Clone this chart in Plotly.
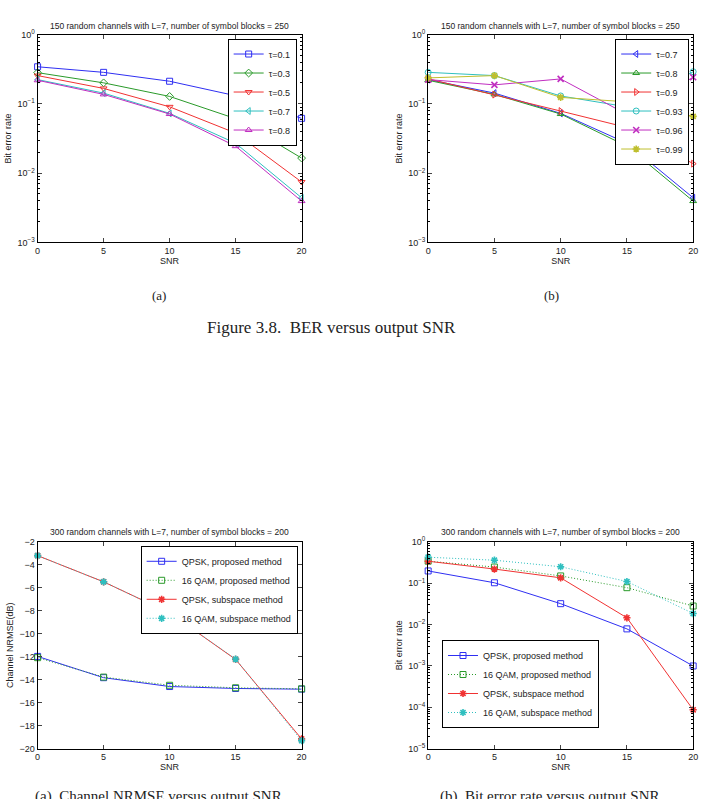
import plotly.graph_objects as go

snr = [0, 5, 10, 15, 20]

# Panel (a) top-left: BER vs SNR for tau
tau_a = ["τ=0.1", "τ=0.3", "τ=0.5", "τ=0.7", "τ=0.8"]
ber_a = [
    [0.343, 0.285, 0.212, 0.131, 0.0618],
    [0.282, 0.201, 0.128, 0.0612, 0.0165],
    [0.256, 0.167, 0.0906, 0.0379, 0.00745],
    [0.224, 0.143, 0.0729, 0.0270, 0.00441],
    [0.219, 0.137, 0.0713, 0.0245, 0.00395],
]

# Panel (b) top-right
tau_b = ["τ=0.7", "τ=0.8", "τ=0.9", "τ=0.93", "τ=0.96", "τ=0.99"]
ber_b = [
    [0.224, 0.143, 0.0729, 0.0270, 0.00441],
    [0.219, 0.137, 0.0713, 0.0245, 0.00395],
    [0.230, 0.136, 0.0787, 0.0456, 0.0137],
    [0.285, 0.256, 0.130, 0.0906, 0.291],
    [0.224, 0.188, 0.229, 0.0705, 0.242],
    [0.237, 0.256, 0.124, 0.107, 0.066],
]

# Bottom panels
methods = ["QPSK, proposed method", "16 QAM, proposed method",
           "QPSK, subspace method", "16 QAM, subspace method"]
nrmse = [
    [-11.97, -13.82, -14.59, -14.76, -14.82],
    [-12.08, -13.77, -14.48, -14.70, -14.79],
    [-3.20, -5.48, -8.18, -12.23, -19.15],
    [-3.20, -5.48, -8.18, -12.20, -19.30],
]
ber_c = [
    [0.198, 0.1026, 0.032, 0.00787, 0.00100],
    [0.341, 0.246, 0.150, 0.078, 0.0281],
    [0.340, 0.220, 0.135, 0.0146, 0.000087],
    [0.425, 0.360, 0.250, 0.110, 0.0185],
]

BLUE = "#2f2ff2"
GREEN = "#2a9a2a"
RED = "#f03232"
CYAN = "#2ebfbf"
MAG = "#c02ec0"
YEL = "#bfbf2e"

cols_a = [BLUE, GREEN, RED, CYAN, MAG]
syms_a = ["square-open", "diamond-open", "triangle-down-open", "triangle-left-open", "triangle-up-open"]
cols_b = [BLUE, GREEN, RED, CYAN, MAG, YEL]
syms_b = ["triangle-left-open", "triangle-up-open", "triangle-right-open", "circle-open", "x-thin-open", "asterisk-open"]
cols_c = [BLUE, GREEN, RED, CYAN]
syms_c = ["square-open", "square-open", "asterisk-open", "asterisk-open"]
dash_c = ["solid", "1px,2px", "solid", "1px,2px"]

W, H = 712, 799
def px(x):
    return x / W
def py(y):
    return 1 - y / H

FONT = "Liberation Sans, Arial, sans-serif"
fig = go.Figure()

def add(x, y, name, color, sym, xa, ya, leg, dash="solid"):
    msize = 6
    if sym in ("asterisk-open", "x-thin-open"):
        lw_m = 1.6
    else:
        lw_m = 1
    fig.add_trace(go.Scatter(
        x=x, y=y, name=name, mode="lines+markers", xaxis=xa, yaxis=ya, legend=leg,
        line=dict(color=color, width=1, dash=dash),
        marker=dict(symbol=sym, size=msize, color=color, line=dict(color=color, width=lw_m)),
        cliponaxis=False))

for n, v, c, s in zip(tau_a, ber_a, cols_a, syms_a):
    add(snr, v, n, c, s, "x", "y", "legend")
for n, v, c, s in zip(tau_b, ber_b, cols_b, syms_b):
    add(snr, v, n, c, s, "x2", "y2", "legend2")
for n, v, c, s, d in zip(methods, nrmse, cols_c, syms_c, dash_c):
    add(snr, v, n, c, s, "x3", "y3", "legend3", d)
for n, v, c, s, d in zip(methods, ber_c, cols_c, syms_c, dash_c):
    add(snr, v, n, c, s, "x4", "y4", "legend4", d)

xdom_l = [px(35), px(302)]
xdom_r = [px(430), px(698)]
ydom_t = [py(239), py(28)]
ydom_b = [py(753), py(543)]

tickfont = dict(family=FONT, size=9, color="#222")
common_x = dict(range=[0, 20], tickvals=snr, ticks="inside", ticklen=4, showline=True,
                linecolor="black", linewidth=1, mirror="allticks", showgrid=False, zeroline=False,
                tickfont=tickfont, title=dict(text="SNR", font=dict(family=FONT, size=9, color="#222"), standoff=1))

def logaxis(lo, hi, dom, anchor):
    vals = [10 ** k for k in range(lo, hi + 1)]
    txt = ["10<sup>%s</sup>" % (str(k).replace("-", "−")) for k in range(lo, hi + 1)]
    return dict(type="log", range=[lo, hi], domain=dom, anchor=anchor, tickvals=vals, ticktext=txt,
                ticks="inside", ticklen=4, showline=True, linecolor="black", linewidth=1, mirror="allticks",
                showgrid=False, zeroline=False, tickfont=tickfont,
                minor=dict(ticks="inside", ticklen=2, tickcolor="black", showgrid=False,
                           tickvals=[m * 10 ** k for k in range(lo, hi) for m in range(2, 10)]),
                title=dict(text="Bit error rate", font=dict(family=FONT, size=9, color="#222"), standoff=4))

layout = dict(
    width=W, height=H, margin=dict(l=0, r=0, t=0, b=0),
    paper_bgcolor="white", plot_bgcolor="white", showlegend=True,
    xaxis=dict(common_x, domain=xdom_l, anchor="y"),
    xaxis2=dict(common_x, domain=xdom_r, anchor="y2"),
    xaxis3=dict(common_x, domain=xdom_l, anchor="y3"),
    xaxis4=dict(common_x, domain=xdom_r, anchor="y4"),
    yaxis=logaxis(-3, 0, ydom_t, "x"),
    yaxis2=logaxis(-3, 0, ydom_t, "x2"),
    yaxis3=dict(range=[-20, -2], domain=ydom_b, anchor="x3", tickvals=list(range(-20, -1, 2)),
                ticktext=[("−%d" % -v) for v in range(-20, -1, 2)],
                ticks="inside", ticklen=4, showline=True, linecolor="black", linewidth=1, mirror="allticks",
                showgrid=False, zeroline=False, tickfont=tickfont,
                title=dict(text="Channel NRMSE(dB)", font=dict(family=FONT, size=9, color="#222"), standoff=4)),
    yaxis4=logaxis(-5, 0, ydom_b, "x4"),
)

legbase = dict(bgcolor="white", bordercolor="black", borderwidth=1,
               font=dict(family=FONT, size=9, color="#222"), tracegroupgap=0, itemwidth=30)
layout["legend"] = dict(legbase, x=px(297), y=py(32), xanchor="right", yanchor="top")
layout["legend2"] = dict(legbase, x=px(694), y=py(32), xanchor="right", yanchor="top")
layout["legend3"] = dict(legbase, x=px(298), y=py(547), xanchor="right", yanchor="top")
layout["legend4"] = dict(legbase, x=px(444), y=py(732), xanchor="left", yanchor="bottom")

fig.update_layout(**layout)

titles = [
    ("150 random channels with L=7, number of symbol blocks = 250", (35 + 302) / 2, 19),
    ("150 random channels with L=7, number of symbol blocks = 250", (430 + 698) / 2, 19),
    ("300 random channels with L=7, number of symbol blocks = 200", (35 + 302) / 2, 533),
    ("300 random channels with L=7, number of symbol blocks = 200", (430 + 698) / 2, 533),
]
for t, x, y in titles:
    fig.add_annotation(text=t, x=px(x), y=py(y), xref="paper", yref="paper", showarrow=False,
                       xanchor="center", yanchor="middle", font=dict(family=FONT, size=8.5, color="#222"))

SERIF = "Liberation Serif, DejaVu Serif, serif"
fig.add_annotation(text="(a)", x=px(158), y=py(293), xref="paper", yref="paper", showarrow=False,
                   xanchor="center", yanchor="middle", font=dict(family=SERIF, size=13, color="#222"))
fig.add_annotation(text="(b)", x=px(555), y=py(293), xref="paper", yref="paper", showarrow=False,
                   xanchor="center", yanchor="middle", font=dict(family=SERIF, size=13, color="#222"))
fig.add_annotation(text="Figure 3.8.  BER versus output SNR", x=px(332), y=py(325), xref="paper", yref="paper",
                   showarrow=False, xanchor="center", yanchor="middle", font=dict(family=SERIF, size=17, color="#222"))
fig.add_annotation(text="(a)  Channel NRMSE versus output SNR", x=px(30), y=py(791), xref="paper", yref="paper",
                   showarrow=False, xanchor="left", yanchor="top", font=dict(family=SERIF, size=15, color="#222"))
fig.add_annotation(text="(b)  Bit error rate versus output SNR", x=px(440), y=py(791), xref="paper", yref="paper",
                   showarrow=False, xanchor="left", yanchor="top", font=dict(family=SERIF, size=15, color="#222"))

fig.write_html("out.html")
